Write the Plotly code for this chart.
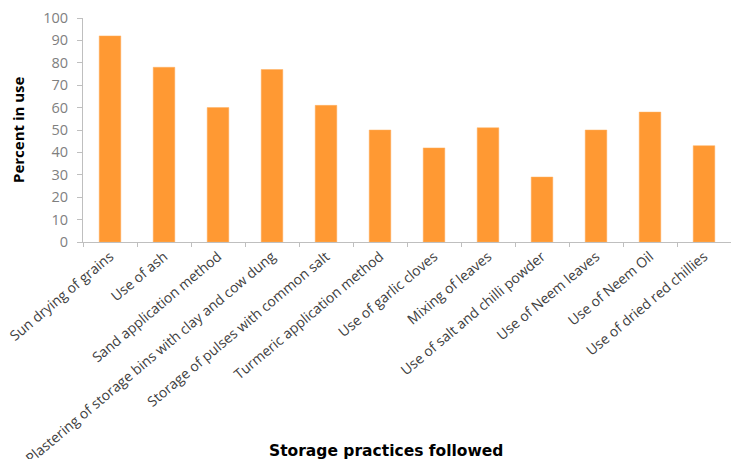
import plotly.graph_objects as go

categories = [
    "Sun drying of grains",
    "Use of ash",
    "Sand application method",
    "Plastering of storage bins with clay and cow dung",
    "Storage of pulses with common salt",
    "Turmeric application method",
    "Use of garlic cloves",
    "Mixing of leaves",
    "Use of salt and chilli powder",
    "Use of Neem leaves",
    "Use of Neem Oil",
    "Use of dried red chillies",
]
values = [92, 78, 60, 77, 61, 50, 42, 51, 29, 50, 58, 43]
y_ticks = [0, 10, 20, 30, 40, 50, 60, 70, 80, 90, 100]

fig = go.Figure(
    go.Bar(
        x=categories,
        y=values,
        marker=dict(color="#FF9933", line=dict(color="#FFB060", width=0.5)),
    )
)

W, H = 731, 459
L, T, B, R = 83, 18, 217, 0

fig.update_layout(
    width=W,
    height=H,
    margin=dict(l=L, r=R, t=T, b=B, pad=0),
    paper_bgcolor="white",
    plot_bgcolor="white",
    bargap=0.6,
    showlegend=False,
    font=dict(family="Open Sans", color="#595959"),
    xaxis=dict(
        automargin=False,
        tickangle=-40,
        tickfont=dict(size=14, color="#404040", family="Open Sans"),
        showline=True,
        linecolor="#BFBFBF",
        linewidth=1,
        ticks="outside",
        ticklen=4,
        tickcolor="#BFBFBF",
        tickson="boundaries",
        showgrid=False,
        range=[-0.5, 11.5],
    ),
    yaxis=dict(
        automargin=False,
        range=[0, 100],
        tickvals=y_ticks,
        tickfont=dict(size=14.5, color="#7F7F7F", family="Open Sans"),
        ticklabelstandoff=6,
        showline=True,
        linecolor="#BFBFBF",
        linewidth=1,
        ticks="outside",
        ticklen=5,
        tickcolor="#BFBFBF",
        showgrid=False,
        zeroline=False,
    ),
    annotations=[
        dict(
            text="<b>Storage practices followed</b>",
            xref="paper", yref="paper",
            x=(386 - L) / (W - L - R), y=-(451 - (H - B)) / (H - T - B),
            xanchor="center", yanchor="middle", showarrow=False,
            font=dict(family="DejaVu Sans", size=15.5, color="black"),
        ),
        dict(
            text="<b>Percent in use</b>",
            xref="paper", yref="paper",
            x=-(L - 18) / (W - L - R), y=(H - B - 130) / (H - T - B),
            xanchor="center", yanchor="middle", showarrow=False, textangle=-90,
            font=dict(family="Open Sans", size=15, color="black"),
        ),
    ],
)

fig.write_html("out.html")
